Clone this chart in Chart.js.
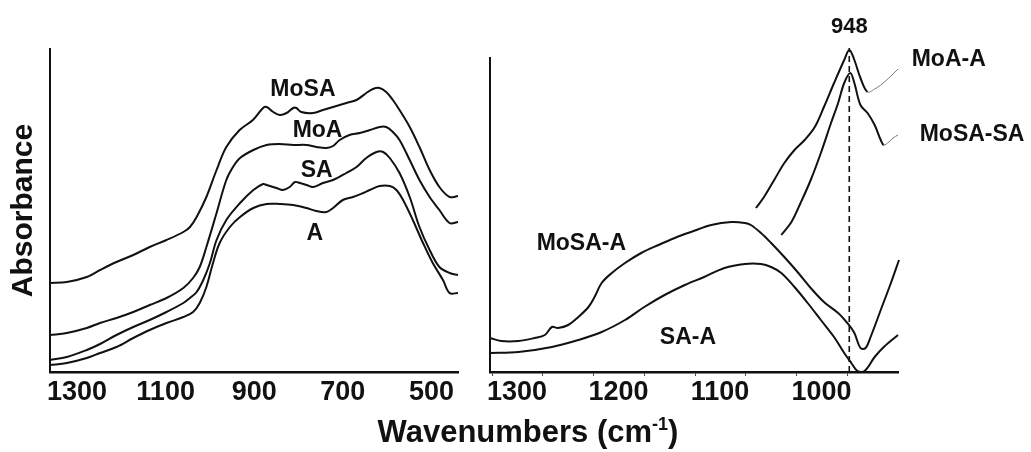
<!DOCTYPE html>
<html>
<head>
<meta charset="utf-8">
<script src="https://cdn.jsdelivr.net/npm/chart.js@4.4.1/dist/chart.umd.min.js"></script>
<style>
  html, body { margin: 0; padding: 0; background: #fff; }
  body { width: 1031px; height: 452px; position: relative; overflow: hidden; font-family: "Liberation Sans", Arial, sans-serif; }
  #left { position: absolute; left: 0; top: 0; }
  #right { position: absolute; left: 448px; top: 0; }
  #xtitle { position: absolute; left: 328px; width: 400px; top: 415px; text-align: center;
            font: bold 31px/34px "Liberation Sans", Arial, sans-serif; color: #111; }
  #xtitle sup { font-size: 18px; vertical-align: 12px; line-height: 0; }
</style>
</head>
<body>
<canvas id="left" width="478" height="452"></canvas>
<canvas id="right" width="583" height="452"></canvas>
<div id="xtitle">Wavenumbers (cm<sup>-1</sup>)</div>
<script>
// ---------- data: left panel (absorbance spectra) ----------
const leftTicks = [1300, 1100, 900, 700, 500];
const mosaX = [1361,1323,1278,1248,1211,1173,1136,1098,1060,1045,1030,1008,985,963,933,903,880,872,857,842,827,812,805,794,767,745,722,692,669,647,632,617,602,587,572,549,527,504,482,459,440];
const mosaY = [0.89,0.90,0.95,1.02,1.10,1.17,1.25,1.32,1.40,1.45,1.55,1.75,2.02,2.25,2.42,2.52,2.64,2.65,2.60,2.57,2.59,2.64,2.64,2.60,2.59,2.62,2.65,2.69,2.72,2.79,2.83,2.84,2.80,2.72,2.62,2.45,2.25,2.02,1.85,1.75,1.76];
const moaX = [1361,1323,1278,1248,1211,1173,1136,1098,1060,1038,1023,1008,985,963,948,932,902,872,842,812,782,760,737,722,707,685,662,639,617,602,587,572,549,527,504,482,459,440];
const moaY = [0.37,0.39,0.44,0.49,0.54,0.60,0.67,0.74,0.84,0.94,1.05,1.25,1.59,1.92,2.05,2.14,2.22,2.27,2.28,2.27,2.27,2.25,2.24,2.26,2.32,2.37,2.39,2.42,2.45,2.45,2.40,2.32,2.12,1.92,1.75,1.62,1.49,1.50];
const saX = [1361,1323,1278,1248,1211,1173,1136,1098,1060,1045,1030,1015,1000,985,963,932,902,880,872,850,835,820,808,797,782,767,745,722,692,669,647,624,609,594,572,549,527,504,482,459,440];
const saY = [0.12,0.15,0.22,0.28,0.37,0.45,0.52,0.60,0.69,0.74,0.80,0.92,1.09,1.32,1.52,1.69,1.82,1.88,1.87,1.84,1.82,1.85,1.90,1.89,1.87,1.85,1.89,1.92,1.99,2.05,2.14,2.20,2.20,2.14,1.99,1.75,1.45,1.22,1.05,0.99,0.97];
const aX = [1361,1323,1278,1248,1211,1173,1136,1098,1060,1038,1023,1008,993,978,955,932,902,872,842,812,782,760,737,722,700,677,654,639,617,594,579,564,542,519,497,474,459,440];
const aY = [0.07,0.09,0.14,0.19,0.25,0.34,0.42,0.49,0.55,0.60,0.69,0.85,1.09,1.29,1.45,1.55,1.64,1.68,1.68,1.67,1.64,1.61,1.60,1.64,1.72,1.75,1.79,1.82,1.86,1.86,1.82,1.72,1.52,1.29,1.09,0.92,0.79,0.79];
const leftLabelText = ["MoSA", "MoA", "SA", "A"];
const leftLabelX = [790, 757, 759, 763];
const leftLabelY = [2.82, 2.41, 2.01, 1.38];

// ---------- data: right panel (difference spectra) ----------
const rightTicks = [1300, 1250, 1200, 1150, 1100, 1050, 1000, 950];
const mosaAX = [1302,1291,1274,1258,1248,1241,1235,1225,1215,1205,1199,1192,1182,1169,1153,1136,1120,1104,1084,1064,1051,1045,1035,1025,1012,999,986,973,959,950,943,937,932,927,917,907,899];
const mosaAY = [0.34,0.31,0.31,0.34,0.37,0.45,0.44,0.47,0.55,0.65,0.75,0.89,0.99,1.09,1.19,1.27,1.34,1.40,1.47,1.50,1.49,1.47,1.39,1.29,1.15,1.00,0.84,0.70,0.59,0.49,0.39,0.24,0.24,0.35,0.62,0.89,1.12];
const saAX = [1302,1274,1241,1215,1192,1169,1150,1130,1110,1091,1071,1051,1035,1025,1015,1002,989,976,963,953,946,940,933,923,914,900];
const saAY = [0.19,0.20,0.25,0.32,0.40,0.52,0.65,0.77,0.87,0.95,1.04,1.08,1.08,1.05,0.99,0.85,0.69,0.52,0.35,0.19,0.09,0.01,0.01,0.15,0.25,0.37];
const moaAX = [1040,1032,1022,1012,1002,992,982,973,963,953,948,943,937,930,923,917,909,900];
const moaAY = [1.64,1.75,1.92,2.09,2.22,2.32,2.45,2.65,2.89,3.12,3.22,3.12,2.94,2.80,2.83,2.87,2.94,3.03];
const mosaSAX = [1015,1005,996,986,976,966,959,953,947,943,937,930,923,917,914,909,905,900];
const mosaSAY = [1.37,1.50,1.69,1.92,2.19,2.49,2.69,2.89,2.99,2.89,2.67,2.59,2.47,2.32,2.27,2.30,2.34,2.37];
const peakX = [948, 948];
const peakY = [0, 3.24];
const rightLabelText = ["948", "MoA-A", "MoSA-SA", "MoSA-A", "SA-A"];
const rightLabelX = [948, 850, 827, 1212, 1107];
const rightLabelY = [3.45, 3.12, 2.37, 1.28, 0.34];

// ---------- helpers ----------
const FONT = '"Liberation Sans", Arial, Helvetica, sans-serif';
const INK = '#111';
const pts = (xs, ys) => xs.map((x, i) => ({ x, y: ys[i] }));

function curve(xs, ys, extra) {
  return Object.assign({
    data: pts(xs, ys), borderColor: INK, borderWidth: 2, pointRadius: 0,
    tension: 0.35, fill: false, clip: false
  }, extra || {});
}
function thinTail(start) {
  return {
    borderColor: c => c.p0DataIndex >= start ? '#7a7a7a' : undefined,
    borderWidth: c => c.p0DataIndex >= start ? 1 : undefined
  };
}

const textPlugin = {
  id: 'seriesText',
  afterDatasetsDraw(chart, args, opts) {
    const { ctx } = chart;
    const sx = chart.scales.x, sy = chart.scales.y;
    ctx.save();
    ctx.fillStyle = INK;
    ctx.textAlign = 'center';
    ctx.textBaseline = 'middle';
    opts.text.forEach((t, i) => {
      ctx.font = 'bold ' + opts.sizes[i] + 'px ' + FONT;
      ctx.fillText(t, sx.getPixelForValue(opts.xs[i]), sy.getPixelForValue(opts.ys[i]));
    });
    ctx.restore();
  }
};

function baseOptions(cfg) {
  return {
    responsive: false,
    animation: false,
    events: [],
    layout: { padding: { top: cfg.top, right: cfg.right, left: 0, bottom: 0 } },
    plugins: {
      legend: { display: false }, tooltip: { enabled: false },
      seriesText: cfg.text
    },
    scales: {
      x: {
        type: 'linear', reverse: true, min: cfg.xmin, max: cfg.xmax,
        afterBuildTicks: s => { s.ticks = cfg.ticks.map(v => ({ value: v })); },
        afterFit: s => { s.height = 80; },
        border: { display: true, color: INK, width: 2.5 },
        grid: cfg.tickMarks
          ? { display: true, drawOnChartArea: false, drawTicks: true, tickLength: 4, color: '#444', lineWidth: 1 }
          : { display: false },
        ticks: {
          autoSkip: false, maxRotation: 0, color: INK,
          padding: cfg.tickPad, labelOffset: cfg.labelOffset,
          font: { family: FONT, size: 27, weight: 'bold' },
          callback: v => cfg.labelIf(v) ? String(v) : ''
        }
      },
      y: {
        type: 'linear', min: 0, max: cfg.ymax,
        afterFit: s => { s.width = cfg.yWidth; },
        border: { display: true, color: INK, width: 2 },
        grid: { display: false },
        ticks: { display: false },
        title: cfg.yTitle
      }
    }
  };
}

// ---------- left chart ----------
new Chart(document.getElementById('left'), {
  type: 'line',
  data: {
    datasets: [
      curve(mosaX, mosaY, { label: 'MoSA' }),
      curve(moaX, moaY, { label: 'MoA' }),
      curve(saX, saY, { label: 'SA' }),
      curve(aX, aY, { label: 'A' })
    ]
  },
  options: baseOptions({
    top: 49, right: 20, xmin: 440, xmax: 1361, ymax: 3.23, yWidth: 50,
    ticks: leftTicks, tickMarks: false, tickPad: -4, labelOffset: 0,
    labelIf: v => true,
    yTitle: { display: true, text: 'Absorbance', color: INK, padding: { top: 6, bottom: 0 },
              font: { family: FONT, size: 30, weight: 'bold' } },
    text: { text: leftLabelText, xs: leftLabelX, ys: leftLabelY, sizes: [23, 23, 23, 23] }
  }),
  plugins: [textPlugin]
});

// ---------- right chart ----------
new Chart(document.getElementById('right'), {
  type: 'line',
  data: {
    datasets: [
      curve(mosaAX, mosaAY, { label: 'MoSA-A' }),
      curve(saAX, saAY, { label: 'SA-A' }),
      curve(moaAX, moaAY, { label: 'MoA-A', segment: thinTail(13) }),
      curve(mosaSAX, mosaSAY, { label: 'MoSA-SA', segment: thinTail(14) }),
      { label: '948 marker', data: pts(peakX, peakY), borderColor: INK, borderWidth: 1.6,
        borderDash: [6, 4], pointRadius: 0, clip: false, tension: 0 }
    ]
  },
  options: baseOptions({
    top: 58, right: 133, xmin: 900, xmax: 1302, ymax: 3.14, yWidth: 42,
    ticks: rightTicks, tickMarks: true, tickPad: 0, labelOffset: 25,
    labelIf: v => v % 100 === 0 && v >= 1000,
    yTitle: { display: false },
    text: { text: rightLabelText, xs: rightLabelX, ys: rightLabelY, sizes: [22, 23, 23, 23, 23] }
  }),
  plugins: [textPlugin]
});
</script>
</body>
</html>
